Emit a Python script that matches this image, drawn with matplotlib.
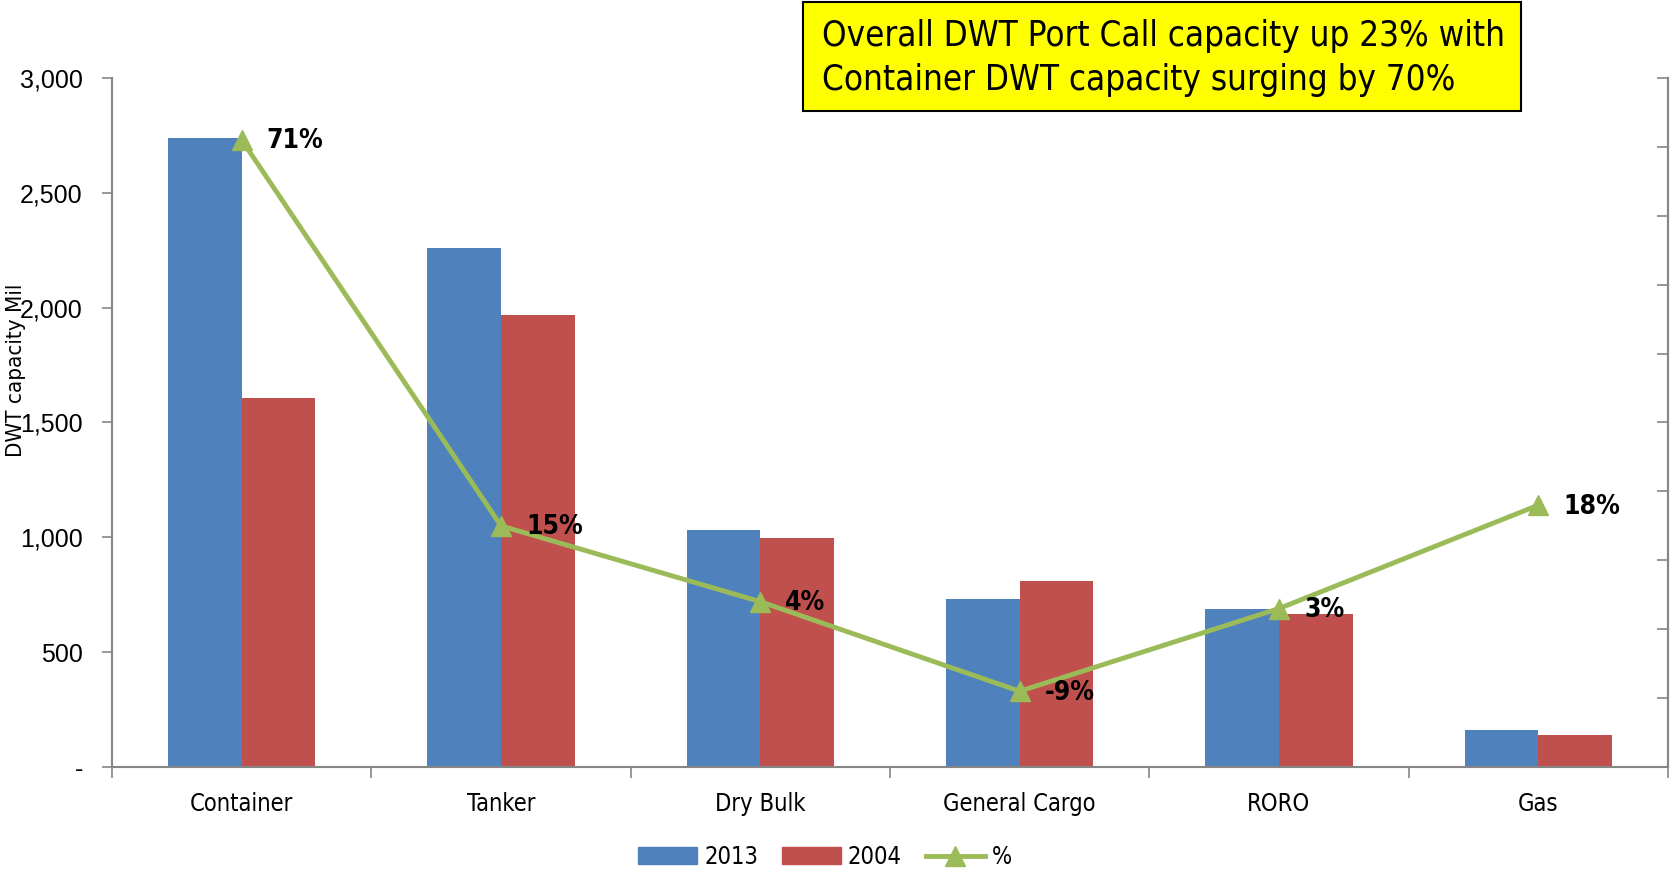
import numpy as np
import matplotlib.pyplot as plt
from matplotlib.patches import Rectangle
from matplotlib.lines import Line2D
from matplotlib.patches import Patch

# datos
categories = ['Container', 'Tanker', 'Dry Bulk', 'General Cargo', 'RORO', 'Gas']
dwt_2013 = [2740, 2260, 1033, 733, 688, 163]
dwt_2004 = [1605, 1967, 995, 809, 665, 140]
pct_change = [0.71, 0.15, 0.04, -0.09, 0.03, 0.18]
pct_labels = ['71%', '15%', '4%', '-9%', '3%', '18%']

blue = '#4F81BD'
red = '#C0504D'
green = '#9BBB59'
axis_gray = '#868686'
narrow = dict(family='DejaVu Sans', stretch='condensed')

fig = plt.figure(figsize=(16.74, 8.74), dpi=100)
ax = fig.add_axes([0.0669, 0.1224, 0.9295, 0.7884])

x = np.arange(len(categories))
w = 0.284
ax.bar(x - w / 2, dwt_2013, width=w, color=blue, label='2013')
ax.bar(x + w / 2, dwt_2004, width=w, color=red, label='2004')

ax.set_xlim(-0.5, len(categories) - 0.5)
ax.set_ylim(0, 3000)
ax.set_yticks(np.arange(0, 3001, 500))
ax.set_yticklabels(['-'] + [f'{v:,}' for v in range(500, 3001, 500)],
                   family='Liberation Sans', fontsize=18)
ax.set_xticks(x)
ax.set_xticklabels(categories, fontsize=17, **narrow)
ax.set_xticks(np.arange(-0.5, len(categories)), minor=True)
ax.tick_params(axis='x', which='major', length=0, pad=18)
ax.tick_params(axis='x', which='minor', length=8, width=1.2, color=axis_gray, direction='out')
ax.tick_params(axis='y', length=7, width=1.2, color=axis_gray, pad=14)
ax.spines['top'].set_visible(False)
for s in ['left', 'bottom', 'right']:
    ax.spines[s].set_color(axis_gray)
    ax.spines[s].set_linewidth(1.5)

ax.set_ylabel('DWT capacity Mil', fontsize=16, **narrow)
ax.yaxis.set_label_coords(-0.0555, 0.575)

# eje secundario (%)
ax2 = ax.twinx()
ax2.set_ylim(-0.2, 0.8)
ax2.set_yticks(np.arange(-0.2, 0.81, 0.1))
ax2.set_yticklabels([])
ax2.tick_params(axis='y', direction='in', length=8, width=1.2, color=axis_gray)
for s in ['top', 'left', 'bottom']:
    ax2.spines[s].set_visible(False)
ax2.spines['right'].set_color(axis_gray)
ax2.spines['right'].set_linewidth(1.5)

ax2.plot(x, pct_change, color=green, linewidth=3.5, marker='^', markersize=15,
         label='%')
for xi, yi, lab in zip(x, pct_change, pct_labels):
    ax2.annotate(lab, (xi, yi), xytext=(18, -1), textcoords='offset points',
                 va='center', ha='left', fontsize=19, fontweight='bold', **narrow)

# caja de titulo
fig.patches.append(Rectangle((803 / 1674, 1 - 111 / 874), 718 / 1674, 109 / 874,
                             transform=fig.transFigure, facecolor='#FFFF00',
                             edgecolor='black', linewidth=1.5, zorder=5))
fig.text(822 / 1674, 1 - 58 / 874,
         'Overall DWT Port Call capacity up 23% with\nContainer DWT capacity surging by 70%',
         ha='left', va='center', fontsize=25, linespacing=1.35, zorder=6, **narrow)

# leyenda
handles = [Patch(color=blue, label='2013'), Patch(color=red, label='2004'),
           Line2D([0], [0], color=green, linewidth=3.5, marker='^', markersize=15, label='%')]
fig.legend(handles=handles, loc='center', bbox_to_anchor=(825 / 1674, 1 - 857 / 874),
           ncol=3, frameon=False, handlelength=2.5, handleheight=0.75,
           columnspacing=1.0, handletextpad=0.3,
           prop=dict(size=17, **narrow))

fig.savefig('out.png', dpi=100)
